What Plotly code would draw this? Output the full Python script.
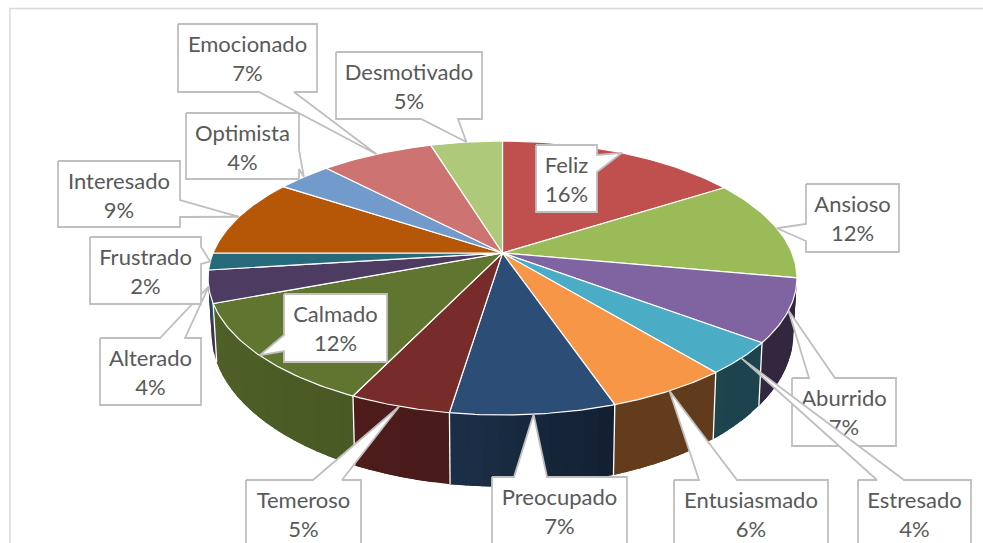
import numpy as np
import plotly.graph_objects as go

# series, clockwise from 12 o'clock
categorias = ["Feliz", "Ansioso", "Aburrido", "Estresado", "Entusiasmado", "Preocupado", "Temeroso",
              "Calmado", "Alterado", "Frustrado", "Interesado", "Optimista", "Emocionado", "Desmotivado"]
# printed on the labels
porcentajes = [16, 12, 7, 4, 6, 7, 5, 12, 4, 2, 9, 4, 7, 5]
# slice sizes
valores = [15.9, 12.0, 7.4, 3.8, 5.7, 7.6, 4.7, 12.1, 3.8, 2.0, 9.3, 3.6, 7.4, 4.7]
colores = ["#c0504d", "#9bbb59", "#8064a2", "#4bacc6", "#f79646", "#2c4d75", "#772c2a",
           "#5f7530", "#4d3b62", "#276a7c", "#b65708", "#729aca", "#cd7371", "#afc97a"]

# label boxes: x0, y0, x1, y1, side of the box the pointer leaves from, pointer base start/end
cajas = {
    "Feliz": (536, 145, 597, 212, "right", 155, 172),
    "Ansioso": (806, 184, 899, 252, "left", 224, 241),
    "Aburrido": (792, 378, 896, 446, "top", 809, 835),
    "Estresado": (858, 480, 971, 548, "top", 877, 904),
    "Entusiasmado": (674, 480, 828, 548, "top", 699, 737),
    "Preocupado": (492, 477, 627, 548, "top", 514, 547),
    "Temeroso": (246, 480, 361, 548, "top", 313, 342),
    "Calmado": (284, 294, 387, 362, "left", 335, 351),
    "Alterado": (100, 338, 201, 405, "top", 160, 185),
    "Frustrado": (90, 237, 201, 304, "right", 247, 264),
    "Interesado": (58, 161, 180, 227, "right", 200, 217),
    "Optimista": (186, 113, 299, 179, "right", 150, 169),
    "Emocionado": (178, 24, 317, 92, "bottom", 259, 294),
    "Desmotivado": (336, 52, 482, 119, "bottom", 421, 458),
}

# perspective of the pie, in pixels of the 983x543 page
CX = 502.5
P = 0.1825
TAPA = dict(a=289.5, b=132.4, y0=253.0)
BASE = dict(a=286.0, b=148.0, y0=305.6)
# wall shading against the angle
SOMBRA_ANG = [90, 160, 186, 205.5, 205.6, 230, 270]
SOMBRA_VAL = [0.38, 0.40, 0.60, 0.65, 0.76, 0.80, 0.85]
FUENTE = "Lato"
GRIS_TEXTO = "#595959"
GRIS_CAJA = "#bfbfbf"


def proyectar(theta, plano):
    t = np.radians(theta)
    u, v = np.sin(t), np.cos(t)
    return CX + plano["a"] * u / (1 + P * v), plano["y0"] - plano["b"] * v / (1 + P * v)


def oscurecer(color, f):
    r, g, b = int(color[1:3], 16), int(color[3:5], 16), int(color[5:7], 16)
    return f"rgb({r * f:.0f},{g * f:.0f},{b * f:.0f})"


def poligono(x, y, fill, line, width):
    return go.Scatter(x=list(x), y=list(y), mode="lines", fill="toself", fillcolor=fill,
                      line=dict(color=line, width=width), hoverinfo="skip", showlegend=False)


def trazo_caja(caja, punta):
    x0, y0, x1, y1, lado, b0, b1 = caja
    px, py = punta
    xs, ys = [x0], [y0]
    if lado == "top":
        xs += [b0, px, b1]; ys += [y0, py, y0]
    xs.append(x1); ys.append(y0)
    if lado == "right":
        xs += [x1, px, x1]; ys += [b0, py, b1]
    xs.append(x1); ys.append(y1)
    if lado == "bottom":
        xs += [b1, px, b0]; ys += [y1, py, y1]
    xs.append(x0); ys.append(y1)
    if lado == "left":
        xs += [x0, px, x0]; ys += [b1, py, b0]
    xs.append(x0); ys.append(y0)
    return xs, ys


limites = np.cumsum([0] + valores) / sum(valores) * 360
fig = go.Figure()

# outer walls, front half only. each strip runs past its end and the next one paints over it,
# that way no seams show between strips
for i, color in enumerate(colores):
    ini, fin = max(limites[i], 90), min(limites[i + 1], 270)
    if fin <= ini:
        continue
    angs = np.linspace(ini, fin, max(2, int((fin - ini) / 2.5) + 1))
    for a0, a1 in zip(angs[:-1], angs[1:]):
        tramo = np.linspace(a0, fin if a1 + 3 > fin else a1 + 3, 6)
        xt, yt = proyectar(tramo, TAPA)
        xb, yb = proyectar(tramo[::-1], BASE)
        c = oscurecer(color, np.interp((a0 + a1) / 2, SOMBRA_ANG, SOMBRA_VAL))
        fig.add_trace(poligono(np.r_[xt, xb, xt[0]], np.r_[yt, yb, yt[0]], c, c, 0))

# white edges between the wall pieces
for ang in limites[1:-1]:
    if 105 < ang < 255:
        xt, yt = proyectar(ang, TAPA)
        xb, yb = proyectar(ang, BASE)
        fig.add_trace(go.Scatter(x=[xt, xb], y=[yt, yb], mode="lines", hoverinfo="skip", showlegend=False,
                                 line=dict(color="white", width=1.3)))

# top face
for i, color in enumerate(colores):
    angs = np.linspace(limites[i], limites[i + 1], 40)
    xr, yr = proyectar(angs, TAPA)
    fig.add_trace(poligono(np.r_[CX, xr, CX], np.r_[TAPA["y0"], yr, TAPA["y0"]], color, "white", 1.2))

# callouts in series order, each one can cover the ones before it
for i, nombre in enumerate(categorias):
    caja = cajas[nombre]
    punta = proyectar((limites[i] + limites[i + 1]) / 2, TAPA)
    xs, ys = trazo_caja(caja, punta)
    fig.add_trace(poligono(xs, ys, "white", GRIS_CAJA, 1.8))
    cx, cy = (caja[0] + caja[2]) / 2, caja[1] + 36.5
    fig.add_trace(go.Scatter(x=[cx, cx], y=[cy - 14.5, cy + 14.5], mode="text",
                             text=[nombre, f"{porcentajes[i]}%"], textposition="middle center",
                             textfont=dict(family=FUENTE, size=22, color=GRIS_TEXTO),
                             hoverinfo="skip", showlegend=False))

fig.update_layout(
    width=983, height=543,
    paper_bgcolor="white", plot_bgcolor="white",
    margin=dict(l=0, r=0, t=0, b=0),
    showlegend=False,
    xaxis=dict(range=[0, 983], visible=False, fixedrange=True),
    yaxis=dict(range=[543, 0], visible=False, fixedrange=True),
    # chart frame, cut by the screenshot on the right and bottom
    shapes=[dict(type="rect", xref="x", yref="y", x0=10, y0=8.5, x1=1000, y1=560, layer="below",
                 line=dict(color="#d9d9d9", width=1.5))],
)
fig.write_html("out.html", config={"displayModeBar": False},
               post_script="document.body.style.margin='0';document.body.style.overflow='hidden';")
